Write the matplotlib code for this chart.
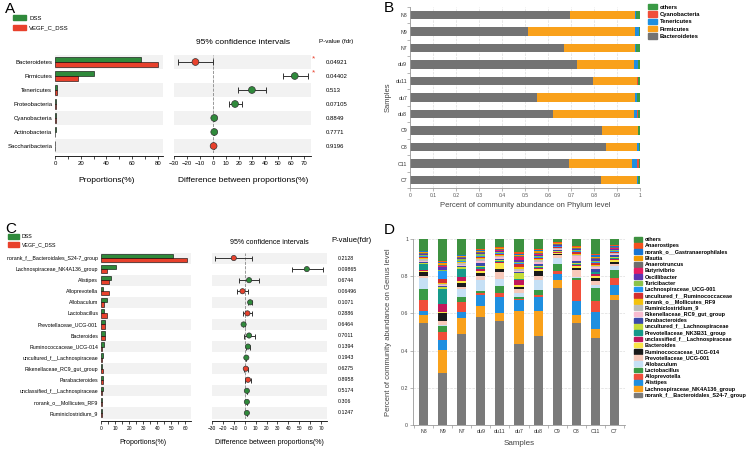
import numpy as np
import matplotlib
matplotlib.use('Agg')
import matplotlib.pyplot as plt
import matplotlib.transforms as mtransforms
from matplotlib.patches import Patch

plt.rcParams['font.family'] = ['Liberation Sans', 'DejaVu Sans']

GREEN = '#2f8a3b'
RED = '#e8412c'
BAND = '#f2f2f2'

# ---- panel A: phylum level, DSS vs VEGF_C_DSS
phyla_a = ['Bacteroidetes', 'Firmicutes', 'Tenericutes', 'Proteobacteria',
           'Cyanobacteria', 'Actinobacteria', 'Saccharibacteria']
dss_a = [67, 30.5, 1.5, 0.8, 0.5, 0.4, 0.3]
vegf_a = [80, 17.5, 1.2, 0.6, 0.4, 0.3, 0.3]
diff_a = [-13.5, 63, 30, 17, 1, 1, 0.5]
low_a = [-27, 54, 19, 12, 1, 1, 0.5]
high_a = [0, 73, 40.5, 22.5, 1, 1, 0.5]
higher_a = ['VEGF', 'DSS', 'DSS', 'DSS', 'DSS', 'DSS', 'VEGF']
p_a = ['0.04921', '0.04402', '0.513', '0.07105', '0.8849', '0.7771', '0.9196']
signif_a = [True, True, False, False, False, False, False]

# ---- panel C: genus level, DSS vs VEGF_C_DSS
genera_c = ['norank_f__Bacteroidales_S24-7_group', 'Lachnospiraceae_NK4A136_group',
            'Alistipes', 'Alloprevotella', 'Allobaculum', 'Lactobacillus',
            'Prevotellaceae_UCG-001', 'Bacteroides', 'Ruminococcaceae_UCG-014',
            'uncultured_f__Lachnospiraceae', 'Rikenellaceae_RC9_gut_group',
            'Parabacteroides', 'unclassified_f__Lachnospiraceae',
            'norank_o__Mollicutes_RF9', 'Ruminiclostridium_9']
dss_c = [51, 10.5, 7, 1.5, 4, 2, 3, 2.5, 2, 1.5, 1, 1.2, 1.2, 0.8, 0.8]
vegf_c = [61, 4, 6, 5.5, 2, 4, 2.5, 2.5, 1, 1, 1.5, 1.2, 0.8, 0.5, 0.6]
diff_c = [-10, 57, 4, -2, 5, 2.5, -1, 4, 3, 1.5, 1, 3, 2, 2, 2]
low_c = [-27, 43, -5, -7, 3, -2, -2, -1, 1.5, 1.5, -1, 0, 2, 2, 2]
high_c = [7, 72, 13, 3, 7, 7, 0, 9, 4.5, 1.5, 3, 6, 2, 2, 2]
higher_c = ['VEGF', 'DSS', 'DSS', 'VEGF', 'DSS', 'VEGF', 'DSS', 'DSS', 'DSS',
            'DSS', 'VEGF', 'VEGF', 'DSS', 'DSS', 'DSS']
p_c = ['0.2128', '0.09865', '0.6744', '0.06496', '0.1071', '0.2886', '0.6464',
       '0.7011', '0.1394', '0.1943', '0.6275', '0.8958', '0.5174', '0.306', '0.1247']

# ---- panel B: phylum composition per sample
samples = ['N8', 'N9', 'N7', 'du9', 'du11', 'du7', 'du8', 'C9', 'C8', 'C11', 'C7']
bacteroidetes = [0.695, 0.515, 0.67, 0.725, 0.795, 0.55, 0.62, 0.835, 0.85, 0.69, 0.83]
firmicutes = [0.285, 0.465, 0.31, 0.25, 0.19, 0.43, 0.355, 0.155, 0.135, 0.275, 0.155]
tenericutes = [0.002, 0.015, 0.002, 0.018, 0.003, 0.005, 0.012, 0.0, 0.01, 0.02, 0.008]
cyanobacteria = [0.0, 0.0, 0.0, 0.0, 0.002, 0.0, 0.005, 0.0, 0.0, 0.01, 0.0]
others_b = [0.018, 0.005, 0.018, 0.007, 0.01, 0.015, 0.008, 0.01, 0.005, 0.005, 0.007]

# ---- panel D: genus composition per sample (N8 N9 N7 du9 du11 du7 du8 C9 C8 C11 C7)
s24_7 = [.55, .28, .49, .578, .56, .435, .48, .735, .555, .47, .68]
nk4a136 = [.04, .125, .085, .062, .04, .18, .135, .045, .045, .045, .03]
alistipes = [.025, .05, .03, .057, .09, .055, .075, .03, .075, .09, .055]
alloprevotella = [.055, .045, .055, .015, .02, .01, .01, .02, .115, .06, .035]
lactobacillus = [.06, .03, .03, .01, .04, .01, .025, .035, .01, .07, .045]
allobaculum = [.06, .01, .04, .06, .035, .02, .055, .035, .005, .02, .02]
prev_ucg001 = [.01, .02, .01, .02, .04, .02, .02, .015, .04, .02, .015]
rumino_ucg014 = [.025, .04, .025, .015, .015, .01, .03, .005, .01, .015, .01]
bacteroides = [.005, .01, .01, .01, .03, .015, .01, .005, .01, .01, .01]
unclass_lachno = [.005, .04, .02, .01, .005, .025, .005, .003, .005, .01, .005]
nk3b31 = [.03, .08, .045, .01, .005, .005, .005, .003, .005, .01, .005]
uncult_lachno = [.005, .01, .008, .01, .005, .03, .005, .003, .005, .005, .005]
parabacteroides = [.005, .01, .005, .015, .01, .005, .01, .005, .01, .015, .01]
rikenellaceae = [.008, .005, .008, .01, .01, .01, .01, .005, .03, .01, .005]
ruminiclostridium = [.008, .005, .008, .008, .005, .01, .01, .005, .005, .005, .005]
mollicutes = [.005, .005, .005, .01, .005, .01, .005, .005, .005, .005, .005]
uncult_rumino = [.005, .02, .005, .005, .005, .015, .01, .004, .01, .01, .005]
lachno_ucg001 = [.005, .045, .005, .005, .005, .005, .005, .003, .005, .005, .005]
turicibacter = [.008, .005, .008, .008, .005, .005, .005, .003, .005, .005, .005]
oscillibacter = [.004, .015, .005, .005, .005, .01, .005, .003, .005, .01, .005]
butyrivibrio = [.003, .005, .003, .004, .005, .02, .005, .003, .003, .005, .005]
anaerotruncus = [.004, .005, .004, .004, .004, .005, .005, .003, .003, .005, .003]
blautia = [.006, .01, .005, .006, .005, .005, .01, .005, .005, .005, .005]
gastranaero = [.003, .005, .003, .003, .003, .005, .005, .002, .003, .01, .003]
anaerostipes = [.004, .005, .004, .005, .004, .01, .005, .003, .003, .005, .003]
others_d = [.062, .12, .084, .055, .044, .07, .055, .017, .04, .08, .035]

fig = plt.figure(figsize=(7.5, 4.5), dpi=100)


def box(x0, y0, x1, y1):
    # pixel box (top-left origin) -> figure fraction
    return [x0 / 750, 1 - y1 / 450, (x1 - x0) / 750, (y1 - y0) / 450]


def fx(x):
    return x / 750


def fy(y):
    return 1 - y / 450


def ext_bar(ax1, ax2, names, dss, vegf, diff, lo, hi, higher, pvals, xmax,
            major, minor, fs, tfs, ms, cap, p_x):
    n = len(names)
    y = np.arange(n)
    for ax in (ax1, ax2):
        for i in range(0, n, 2):
            ax.axhspan(i - 0.5, i + 0.5, color=BAND, lw=0, zorder=0)
        ax.set_ylim(n - 0.5, -0.5)
        for s in ['top', 'right', 'left']:
            ax.spines[s].set_visible(False)
        ax.spines['bottom'].set_position(('outward', 2))
        ax.spines['bottom'].set_linewidth(0.6)
        ax.tick_params(axis='x', labelsize=tfs, length=2, width=0.5, pad=1.5)
        ax.tick_params(axis='x', which='minor', length=2, width=0.5)
        ax.tick_params(axis='y', length=0)
    ax1.barh(y - 0.19, dss, height=0.38, color=GREEN, edgecolor='black', lw=0.4)
    ax1.barh(y + 0.19, vegf, height=0.38, color=RED, edgecolor='black', lw=0.4)
    ax1.set_xlim(0, xmax)
    ax1.set_xticks(major)
    ax1.set_xticks(minor, minor=True)
    ax1.set_yticks(y)
    ax1.set_yticklabels(names, fontsize=fs)
    ax1.tick_params(axis='y', pad=2)

    diff = np.array(diff)
    cols = [RED if h == 'VEGF' else GREEN for h in higher]
    ax2.axvline(0, color='#888888', ls='--', lw=0.6, zorder=1)
    ax2.errorbar(diff, y, xerr=[diff - np.array(lo), np.array(hi) - diff], fmt='none',
                 ecolor='#333333', elinewidth=0.7, capsize=cap, capthick=0.7, zorder=2)
    ax2.scatter(diff, y, s=ms, c=cols, edgecolors='#333333', linewidths=0.5, zorder=3)
    ax2.set_xlim(-30, 75.5)
    ax2.set_xticks(range(-30, 71, 10))
    ax2.set_yticks([])
    tr = mtransforms.blended_transform_factory(fig.transFigure, ax2.transData)
    for i, p in enumerate(pvals):
        ax2.text(fx(p_x), i, p, transform=tr, fontsize=fs, va='center', ha='left')
    return tr


# ================= Panel A
ax_a1 = fig.add_axes(box(55, 55, 163, 153))
ax_a2 = fig.add_axes(box(174, 55, 311, 153))
tr = ext_bar(ax_a1, ax_a2, phyla_a, dss_a, vegf_a, diff_a, low_a, high_a, higher_a, p_a,
             84, range(0, 81, 20), range(0, 81, 10), 4.3, 4.3, 24, 2.2, 326)
for i, s in enumerate(signif_a):
    if s:
        ax_a2.text(fx(313), i - 0.25, '*', transform=tr, color=RED, fontsize=6,
                   ha='center', va='center')
fig.text(fx(5), fy(9), 'A', fontsize=11, va='center')
fig.text(fx(243), fy(42), '95% confidence intervals', fontsize=6, ha='center', va='center')
fig.text(fx(319), fy(42), 'P-value (fdr)', fontsize=4.5, ha='left', va='center')
fig.text(fx(107), fy(180), 'Proportions(%)', fontsize=6, ha='center', va='center')
fig.text(fx(243), fy(180), 'Difference between proportions(%)', fontsize=6,
         ha='center', va='center')
fig.legend(handles=[Patch(color=GREEN, label='DSS'), Patch(color=RED, label='VEGF_C_DSS')],
           loc='upper left', bbox_to_anchor=(fx(13), fy(15)), frameon=False, fontsize=4.3,
           handlelength=2.1, handleheight=1.0, labelspacing=0.7, handletextpad=0.6,
           borderpad=0, borderaxespad=0)

# ================= Panel C
ax_c1 = fig.add_axes(box(101, 252.5, 191, 418.5))
ax_c2 = fig.add_axes(box(212, 252.5, 327, 418.5))
ext_bar(ax_c1, ax_c2, genera_c, dss_c, vegf_c, diff_c, low_c, high_c, higher_c, p_c,
        64, range(0, 61, 10), range(0, 61, 5), 3.8, 3.5, 14, 1.8, 338)
fig.text(fx(5), fy(229), 'C', fontsize=11, va='center')
fig.text(fx(269), fy(242), '95% confidence intervals', fontsize=5, ha='center', va='center')
fig.text(fx(331), fy(240), 'P-value(fdr)', fontsize=5.5, ha='left', va='center')
fig.text(fx(143), fy(442), 'Proportions(%)', fontsize=5, ha='center', va='center')
fig.text(fx(269), fy(442), 'Difference between proportions(%)', fontsize=5,
         ha='center', va='center')
fig.legend(handles=[Patch(color=GREEN, label='DSS'), Patch(color=RED, label='VEGF_C_DSS')],
           loc='upper left', bbox_to_anchor=(fx(8), fy(234)), frameon=False, fontsize=3.8,
           handlelength=2.0, handleheight=1.0, labelspacing=0.6, handletextpad=0.6,
           borderpad=0, borderaxespad=0)

# ================= Panel B
ax_b = fig.add_axes(box(410, 6.75, 640, 188.25))
phylum_series = [('Bacteroidetes', bacteroidetes, '#737373'),
                 ('Firmicutes', firmicutes, '#f9a11b'),
                 ('Tenericutes', tenericutes, '#1f8fe0'),
                 ('Cyanobacteria', cyanobacteria, '#f04e3a'),
                 ('others', others_b, '#3a9a45')]
yb = np.arange(len(samples))
left = np.zeros(len(samples))
handles_b = []
for name, vals, col in phylum_series:
    ax_b.barh(yb, vals, left=left, height=0.5, color=col, lw=0, zorder=2)
    left += np.array(vals)
    handles_b.append(Patch(color=col, label=name))
ax_b.set_xlim(0, 1)
ax_b.set_ylim(len(samples) - 0.5, -0.5)
ax_b.set_xticks(np.arange(0, 1.01, 0.1))
ax_b.set_xticklabels(['0'] + ['%.1f' % v for v in np.arange(0.1, 0.95, 0.1)] + ['1'])
ax_b.grid(axis='x', ls='--', color='#dddddd', lw=0.5, zorder=0)
ax_b.set_yticks(yb)
ax_b.set_yticklabels(samples)
ax_b.set_yticks(np.arange(-0.5, len(samples), 1), minor=True)
ax_b.tick_params(axis='y', which='major', length=0, labelsize=3.8, pad=2, labelcolor='#333333')
ax_b.tick_params(axis='y', which='minor', length=2, width=0.5, color='#999999')
ax_b.tick_params(axis='x', length=2, width=0.5, color='#999999', labelsize=3.6,
                 labelcolor='#555555', pad=1.5)
for s in ['top', 'right']:
    ax_b.spines[s].set_visible(False)
for s in ['left', 'bottom']:
    ax_b.spines[s].set_color('#999999')
    ax_b.spines[s].set_linewidth(0.6)
ax_b.set_xlabel('Percent of community abundance on Phylum level', fontsize=5.5,
                color='#444444', labelpad=3)
ax_b.set_ylabel('Samples', fontsize=5.5, color='#444444', labelpad=3)
ax_b.legend(handles=handles_b[::-1], loc='upper left', bbox_to_anchor=(fx(648), fy(4)),
            bbox_transform=fig.transFigure, frameon=False,
            prop={'weight': 'bold', 'size': 4.2}, handlelength=1.5, handleheight=1.0,
            labelspacing=0.3, handletextpad=0.5, borderpad=0, borderaxespad=0)
fig.text(fx(384), fy(8), 'B', fontsize=11, va='center')

# ================= Panel D
ax_d = fig.add_axes(box(413, 239, 625, 425))
genus_series = [
    ('norank_f__Bacteroidales_S24-7_group', s24_7, '#7a7a7a'),
    ('Lachnospiraceae_NK4A136_group', nk4a136, '#f9a11b'),
    ('Alistipes', alistipes, '#1f8fe0'),
    ('Alloprevotella', alloprevotella, '#f04e3a'),
    ('Lactobacillus', lactobacillus, '#3a9a45'),
    ('Allobaculum', allobaculum, '#c6e0f5'),
    ('Prevotellaceae_UCG-001', prev_ucg001, '#f7c9ba'),
    ('Ruminococcaceae_UCG-014', rumino_ucg014, '#1a1a1a'),
    ('Bacteroides', bacteroides, '#f9e547'),
    ('unclassified_f__Lachnospiraceae', unclass_lachno, '#c2185b'),
    ('Prevotellaceae_NK3B31_group', nk3b31, '#17998a'),
    ('uncultured_f__Lachnospiraceae', uncult_lachno, '#c5dc3a'),
    ('Parabacteroides', parabacteroides, '#3949ab'),
    ('Rikenellaceae_RC9_gut_group', rikenellaceae, '#f8bbd0'),
    ('Ruminiclostridium_9', ruminiclostridium, '#bdbdbd'),
    ('norank_o__Mollicutes_RF9', mollicutes, '#f4c20d'),
    ('uncultured_f__Ruminococcaceae', uncult_rumino, '#d32f2f'),
    ('Lachnospiraceae_UCG-001', lachno_ucg001, '#2196f3'),
    ('Turicibacter', turicibacter, '#8bc34a'),
    ('Oscillibacter', oscillibacter, '#5e35b1'),
    ('Butyrivibrio', butyrivibrio, '#e91e63'),
    ('Anaerotruncus', anaerotruncus, '#6d6d6d'),
    ('Blautia', blautia, '#f59c00'),
    ('norank_o__Gastranaerophilales', gastranaero, '#1976d2'),
    ('Anaerostipes', anaerostipes, '#f4511e'),
    ('others', others_d, '#3d9140'),
]
total = np.sum([np.array(v) for _, v, _ in genus_series], axis=0)
xd = np.arange(len(samples))
bottom = np.zeros(len(samples))
handles_d = []
for name, vals, col in genus_series:
    rel = np.array(vals) / total
    ax_d.bar(xd, rel, bottom=bottom, width=0.48, color=col, lw=0, zorder=2)
    bottom += rel
    handles_d.append(Patch(color=col, label=name))
ax_d.set_xlim(-0.55, len(samples) - 0.45)
ax_d.set_ylim(0, 1)
ax_d.set_yticks(np.arange(0, 1.01, 0.2))
ax_d.set_yticklabels(['0', '0.2', '0.4', '0.6', '0.8', '1'])
ax_d.grid(axis='y', ls='--', color='#dddddd', lw=0.5, zorder=0)
ax_d.set_xticks(xd)
ax_d.set_xticklabels(samples)
ax_d.set_xticks(np.arange(-0.5, len(samples), 1), minor=True)
ax_d.tick_params(axis='x', which='major', length=0, labelsize=3.8, pad=3, labelcolor='#333333')
ax_d.tick_params(axis='x', which='minor', length=2, width=0.5, color='#999999')
ax_d.tick_params(axis='y', length=2, width=0.5, color='#999999', labelsize=3.8,
                 labelcolor='#444444', pad=1.5)
for s in ['top', 'right']:
    ax_d.spines[s].set_visible(False)
for s in ['left', 'bottom']:
    ax_d.spines[s].set_color('#999999')
    ax_d.spines[s].set_linewidth(0.6)
ax_d.set_xlabel('Samples', fontsize=5.8, color='#444444', labelpad=4)
ax_d.set_ylabel('Percent of community abundance on Genus level', fontsize=5.5,
                color='#444444', labelpad=6)
ax_d.legend(handles=handles_d[::-1], loc='upper left', bbox_to_anchor=(fx(634), fy(237)),
            bbox_transform=fig.transFigure, frameon=False,
            prop={'weight': 'bold', 'size': 4.0}, handlelength=1.5, handleheight=0.9,
            labelspacing=0.18, handletextpad=0.5, borderpad=0, borderaxespad=0)
fig.text(fx(384), fy(230), 'D', fontsize=11, va='center')

fig.savefig('out.png', dpi=100)
